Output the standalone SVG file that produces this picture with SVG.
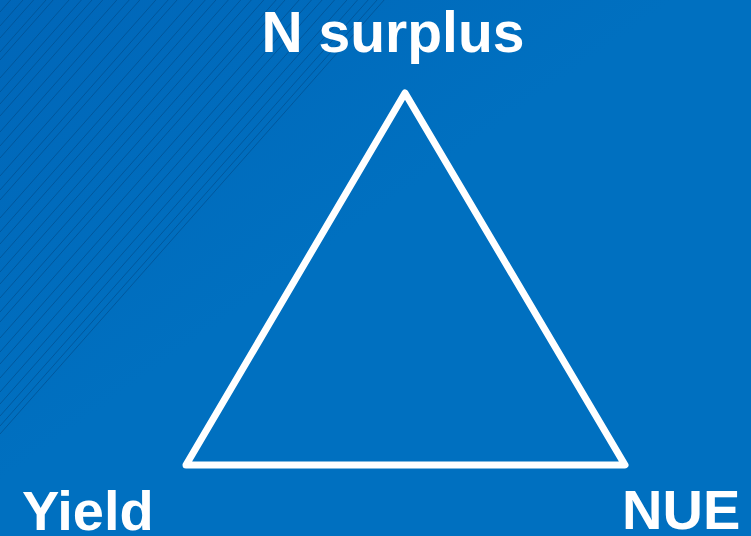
<svg xmlns="http://www.w3.org/2000/svg" width="751" height="536" viewBox="0 0 751 536">
  <defs>
    <linearGradient id="bg" x1="0" y1="0" x2="1" y2="1">
      <stop offset="0" stop-color="#0066B8"/>
      <stop offset="0.45" stop-color="#0070C0"/>
      <stop offset="1" stop-color="#0070C0"/>
    </linearGradient>
  </defs>
  <style>
    .lbl { font-family: "Liberation Sans", Arial, sans-serif; font-weight: bold; font-size: 56px; fill: #FFFFFF; }
    .big { font-size: 57px; }
    .hatch line { stroke: #004E8C; stroke-width: 0.9; stroke-opacity: 0.75; }
    .edge { fill: none; stroke: #FFFFFF; stroke-width: 7; stroke-linejoin: round; stroke-linecap: round; }
  </style>
  <rect x="0" y="0" width="751" height="536" fill="url(#bg)"/>
  <g class="hatch">
    <line x1="0" y1="12" x2="10.6" y2="0"/>
    <line x1="0" y1="26" x2="23" y2="0"/>
    <line x1="0" y1="38" x2="33.6" y2="0"/>
    <line x1="0" y1="52" x2="46" y2="0"/>
    <line x1="0" y1="60" x2="53.1" y2="0"/>
    <line x1="0" y1="78" x2="69" y2="0"/>
    <line x1="0" y1="92" x2="81.4" y2="0"/>
    <line x1="0" y1="104" x2="92" y2="0"/>
    <line x1="0" y1="116" x2="102.7" y2="0"/>
    <line x1="0" y1="132" x2="116.8" y2="0"/>
    <line x1="0" y1="146" x2="129.2" y2="0"/>
    <line x1="0" y1="158" x2="139.8" y2="0"/>
    <line x1="0" y1="176" x2="155.8" y2="0"/>
    <line x1="0" y1="190" x2="168.1" y2="0"/>
    <line x1="0" y1="200" x2="177" y2="0"/>
    <line x1="0" y1="218" x2="192.9" y2="0"/>
    <line x1="0" y1="232" x2="205.3" y2="0"/>
    <line x1="0" y1="244" x2="215.9" y2="0"/>
    <line x1="0" y1="258" x2="228.3" y2="0"/>
    <line x1="0" y1="272" x2="240.7" y2="0"/>
    <line x1="0" y1="284" x2="251.3" y2="0"/>
    <line x1="0" y1="298" x2="263.7" y2="0"/>
    <line x1="0" y1="312" x2="276.1" y2="0"/>
    <line x1="0" y1="322" x2="285" y2="0"/>
    <line x1="0" y1="338" x2="299.1" y2="0"/>
    <line x1="0" y1="352" x2="311.5" y2="0"/>
    <line x1="0" y1="364" x2="322.1" y2="0"/>
    <line x1="0" y1="378" x2="334.5" y2="0"/>
    <line x1="0" y1="392" x2="346.9" y2="0"/>
    <line x1="0" y1="404" x2="357.5" y2="0"/>
    <line x1="0" y1="416" x2="368.1" y2="0"/>
    <line x1="0" y1="426" x2="377" y2="0"/>
    <line x1="0" y1="434" x2="384.1" y2="0"/>
  </g>
  <g id="connectors">
    <path class="edge" d="M405,93 L625,465 L186,465 Z"/>
  </g>
  <g id="node-n-surplus">
    <text class="lbl big" x="393" y="52" text-anchor="middle">N surplus</text>
  </g>
  <g id="node-yield">
    <text class="lbl" x="22" y="530">Yield</text>
  </g>
  <g id="node-nue">
    <text class="lbl" x="622" y="529">NUE</text>
  </g>
</svg>
